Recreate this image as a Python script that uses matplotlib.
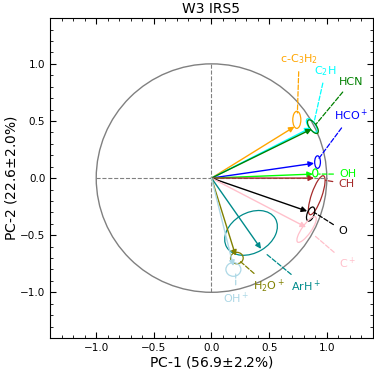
import matplotlib
matplotlib.use('Agg')
import matplotlib.pyplot as plt
from matplotlib.patches import Circle, Ellipse
from matplotlib.ticker import MultipleLocator

# loadings of each species on PC-1 / PC-2
names = ['c-C$_3$H$_2$', 'C$_2$H', 'HCN', 'HCO$^+$', 'OH', 'CH', 'O',
         'C$^+$', 'ArH$^+$', 'H$_2$O$^+$', 'OH$^+$']
colors = ['orange', 'cyan', 'green', 'blue', 'lime', 'brown', 'black',
          'pink', 'darkcyan', 'olive', 'lightblue']
pc1 = [0.72, 0.86, 0.87, 0.89, 0.88, 0.89, 0.83, 0.82, 0.43, 0.21, 0.19]
pc2 = [0.45, 0.44, 0.43, 0.13, 0.035, 0.0, -0.29, -0.43, -0.62, -0.68, -0.77]

# bootstrap uncertainty ellipses (centre, width, height, angle)
ell_x = [0.74, 0.87, 0.88, 0.92, 0.90, 0.913, 0.86, 0.825, 0.343, 0.22, 0.19]
ell_y = [0.51, 0.46, 0.45, 0.14, 0.045, -0.15, -0.315, -0.45, -0.48, -0.70, -0.80]
ell_w = [0.07, 0.06, 0.06, 0.05, 0.045, 0.09, 0.06, 0.08, 0.49, 0.11, 0.13]
ell_h = [0.15, 0.14, 0.14, 0.11, 0.07, 0.36, 0.13, 0.27, 0.35, 0.10, 0.12]
ell_a = [0, 35, 35, 0, 0, -19, -20, -35, 31, 0, 0]

# label positions and where their leader lines end
lab_x = [0.76, 0.99, 1.21, 1.21, 1.18, 1.17, 1.14, 1.18, 0.82, 0.50, 0.21]
lab_y = [1.04, 0.94, 0.84, 0.55, 0.035, -0.05, -0.46, -0.75, -0.95, -0.95, -1.05]
lead_x = [0.745, 0.89, 0.905, 0.93, 0.93, 0.99, 0.89, 0.89, 0.47, 0.25, 0.21]
lead_y = [0.57, 0.49, 0.47, 0.17, 0.035, -0.02, -0.30, -0.50, -0.66, -0.73, -0.84]

fig = plt.figure(figsize=(3.74, 3.71), dpi=100)
ax = fig.add_axes([0.134, 0.089, 0.863, 0.862])

ax.add_patch(Circle((0, 0), 1.0, fill=False, color='grey', lw=1))
ax.plot([-1, 1], [0, 0], ls='--', color='grey', lw=0.8)
ax.plot([0, 0], [-1, 1], ls='--', color='grey', lw=0.8)

for i in range(len(names)):
    c = colors[i]
    ax.annotate('', xy=(pc1[i], pc2[i]), xytext=(0, 0),
                arrowprops=dict(arrowstyle='-|>', color=c, lw=1,
                                mutation_scale=8, shrinkA=0, shrinkB=0))
    ax.add_patch(Ellipse((ell_x[i], ell_y[i]), ell_w[i], ell_h[i],
                         angle=ell_a[i], fill=False, color=c, lw=0.9))
    ax.annotate(names[i], xy=(lead_x[i], lead_y[i]), xytext=(lab_x[i], lab_y[i]),
                color=c, fontsize=8, ha='center', va='center',
                arrowprops=dict(arrowstyle='-', color=c, lw=0.9, ls='--',
                                shrinkA=2, shrinkB=0))

ax.set_xlim(-1.4, 1.4)
ax.set_ylim(-1.4, 1.4)
ax.xaxis.set_major_locator(MultipleLocator(0.5))
ax.yaxis.set_major_locator(MultipleLocator(0.5))
ax.xaxis.set_minor_locator(MultipleLocator(0.1))
ax.yaxis.set_minor_locator(MultipleLocator(0.1))
ax.tick_params(which='both', direction='in', top=True, right=True, labelsize=7.5)
ax.tick_params(which='major', length=4)
ax.tick_params(which='minor', length=2)

ax.set_xlabel('PC-1 (56.9$\\pm$2.2%)', fontsize=10, labelpad=1)
ax.set_ylabel('PC-2 (22.6$\\pm$2.0%)', fontsize=10, labelpad=1)
ax.set_title('W3 IRS5', fontsize=10, pad=4)

fig.savefig('out.png', dpi=100)
